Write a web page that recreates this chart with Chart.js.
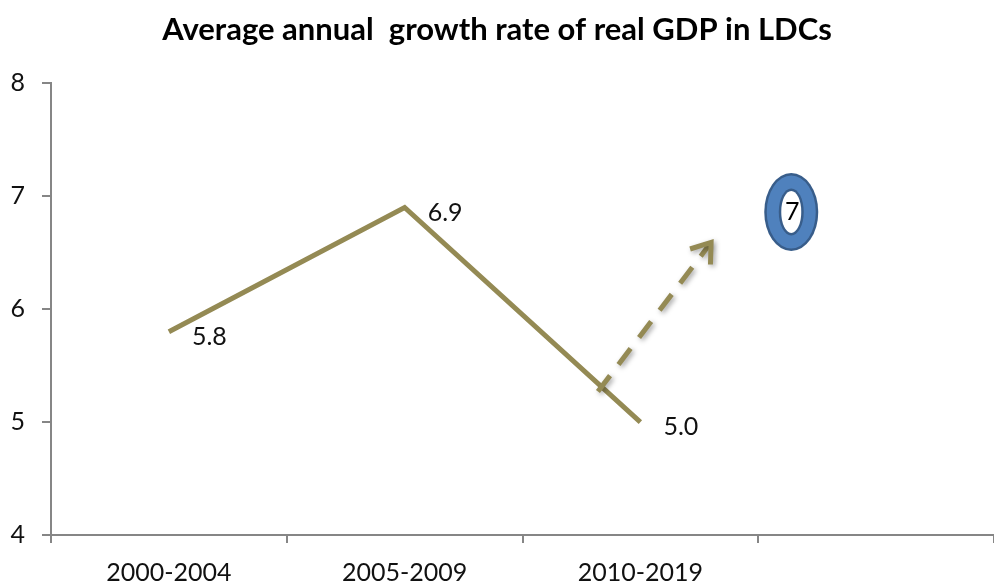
<!DOCTYPE html>
<html>
<head>
<meta charset="utf-8">
<script src="https://cdn.jsdelivr.net/npm/chart.js@4/dist/chart.umd.min.js"></script>
<style>
  html, body { margin: 0; padding: 0; background: #fff; }
  #wrap { width: 994px; height: 588px; position: relative; }
</style>
</head>
<body>
<div id="wrap"><canvas id="c"></canvas></div>
<script>
// Periods on the category axis (the last slot is left open for the outlook)
const periods = ['2000-2004', '2005-2009', '2010-2019', ''];
// Average annual real GDP growth, %
const growth = [5.8, 6.9, 5.0];
// Value axis range and step
const yTicks = [4, 5, 6, 7, 8];
// Outlook arrow: start and end in (category index, value) units
const arrowFrom = [1.82, 5.27];
const arrowTo = [2.30, 6.59];
// Target marker: position in (category index, value) units and its label
const targetAt = [2.64, 6.86];
const targetLabel = '7';

const OLIVE = '#948A54';
const AXIS = '#868686';
const FONT = 'Lato, "Open Sans", sans-serif';

const valueLabels = {
  id: 'valueLabels',
  afterDatasetsDraw(chart) {
    const ctx = chart.ctx;
    const meta = chart.getDatasetMeta(0);
    ctx.save();
    ctx.font = '25px ' + FONT;
    ctx.fillStyle = '#111';
    ctx.textAlign = 'left';
    ctx.textBaseline = 'middle';
    meta.data.forEach((pt, i) => {
      ctx.fillText(growth[i].toFixed(1), pt.x + 23, pt.y + 5);
    });
    ctx.restore();
  }
};

const outlook = {
  id: 'outlook',
  afterDatasetsDraw(chart) {
    const ctx = chart.ctx;
    const xs = chart.scales.x, ys = chart.scales.y;
    const x0 = xs.getPixelForValue(arrowFrom[0]), y0 = ys.getPixelForValue(arrowFrom[1]);
    const x1 = xs.getPixelForValue(arrowTo[0]), y1 = ys.getPixelForValue(arrowTo[1]);
    const ang = Math.atan2(y1 - y0, x1 - x0);

    // dashed shaft with soft shadow
    ctx.save();
    ctx.strokeStyle = OLIVE;
    ctx.lineWidth = 5;
    ctx.lineCap = 'butt';
    ctx.shadowColor = 'rgba(0,0,0,0.35)';
    ctx.shadowBlur = 5;
    ctx.shadowOffsetX = 2;
    ctx.shadowOffsetY = 2;
    ctx.setLineDash([20, 14]);
    ctx.beginPath();
    ctx.moveTo(x0, y0);
    ctx.lineTo(x1 - 3 * Math.cos(ang), y1 - 3 * Math.sin(ang));
    ctx.stroke();
    // open arrow head
    ctx.setLineDash([]);
    ctx.lineJoin = 'miter';
    const L = 22, spread = 0.62;
    ctx.beginPath();
    ctx.moveTo(x1 - L * Math.cos(ang - spread), y1 - L * Math.sin(ang - spread));
    ctx.lineTo(x1, y1);
    ctx.lineTo(x1 - L * Math.cos(ang + spread), y1 - L * Math.sin(ang + spread));
    ctx.stroke();
    ctx.restore();

    // ring marker with its label
    const cx = xs.getPixelForValue(targetAt[0]), cy = ys.getPixelForValue(targetAt[1]);
    ctx.save();
    const ell = (rx, ry, col) => {
      ctx.beginPath();
      ctx.ellipse(cx, cy, rx, ry, 0, 0, Math.PI * 2);
      ctx.fillStyle = col;
      ctx.fill();
    };
    ell(27, 39, '#385D8A');
    ell(24.5, 36.5, '#4F81BD');
    ell(12.5, 23.5, '#385D8A');
    ell(10, 21, '#ffffff');
    ctx.font = '25px ' + FONT;
    ctx.fillStyle = '#000';
    ctx.textAlign = 'center';
    ctx.textBaseline = 'middle';
    ctx.fillText(targetLabel, cx + 1, cy);
    ctx.restore();
  }
};

new Chart(document.getElementById('c'), {
  type: 'line',
  data: {
    labels: periods,
    datasets: [{
      data: growth,
      borderColor: OLIVE,
      borderWidth: 5,
      pointRadius: 0,
      tension: 0,
      fill: false
    }]
  },
  options: {
    responsive: true,
    maintainAspectRatio: false,
    animation: false,
    layout: { padding: { left: 0, right: 0, top: 0, bottom: 0 } },
    plugins: {
      legend: { display: false },
      tooltip: { enabled: false },
      title: {
        display: true,
        text: 'Average annual  growth rate of real GDP in LDCs',
        color: '#000',
        font: { family: FONT, size: 31, weight: 'bold', lineHeight: 1.2 },
        padding: { top: 11, bottom: 35 }
      }
    },
    scales: {
      x: {
        offset: true,
        grid: { display: true, drawOnChartArea: false, offset: true, color: AXIS, lineWidth: 2, tickLength: 8 },
        border: { color: AXIS, width: 2 },
        ticks: { color: '#111', font: { family: FONT, size: 25 }, padding: 15, maxRotation: 0, autoSkip: false },
        afterFit(s) { s.height = 53; }
      },
      y: {
        min: yTicks[0],
        max: yTicks[yTicks.length - 1],
        afterBuildTicks(s) { s.ticks = yTicks.map(v => ({ value: v })); },
        grid: { display: true, drawOnChartArea: false, color: AXIS, lineWidth: 2, tickLength: 9 },
        border: { color: AXIS, width: 2 },
        ticks: { color: '#111', font: { family: FONT, size: 25 }, padding: 17 },
        afterFit(s) { s.width = 51; }
      }
    }
  },
  plugins: [valueLabels, outlook]
});
</script>
</body>
</html>
